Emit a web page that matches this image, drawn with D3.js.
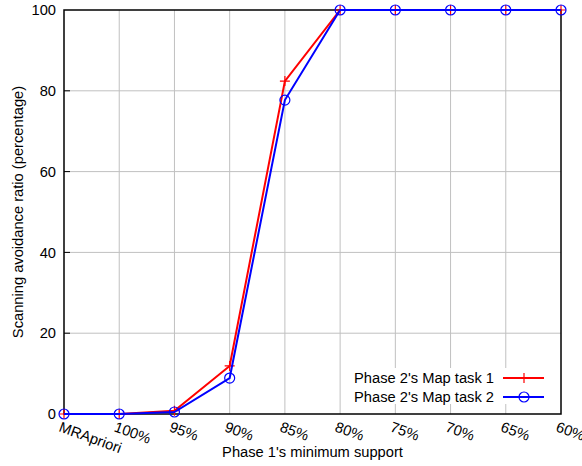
<!DOCTYPE html>
<html>
<head>
<meta charset="utf-8">
<script src="https://cdn.jsdelivr.net/npm/d3@7"></script>
<style>
  body { margin: 0; background: #fff; }
  text { font-family: "Liberation Sans", Arial, sans-serif; }
</style>
</head>
<body>
<div id="chart"></div>
<script>
// data
const categories = ["MRApriori", "100%", "95%", "90%", "85%", "80%", "75%", "70%", "65%", "60%"];
const task1 = [0, 0, 0.8, 11.9, 82.4, 100, 100, 100, 100, 100];
const task2 = [0, 0, 0.5, 8.9, 77.7, 100, 100, 100, 100, 100];
const yTicks = [0, 20, 40, 60, 80, 100];
const seriesNames = ["Phase 2's Map task 1", "Phase 2's Map task 2"];

const W = 582, H = 466;
const margin = { top: 10, right: 21, bottom: 52, left: 64 };
const width = W - margin.left - margin.right;
const height = H - margin.top - margin.bottom;
const fs = "14.7px";

const svg = d3.select("#chart").append("svg")
  .attr("width", W).attr("height", H)
  .append("g")
  .attr("transform", `translate(${margin.left},${margin.top})`);

const x = d3.scalePoint().domain(categories).range([0, width]);
const y = d3.scaleLinear().domain([0, 100]).range([height, 0]);

// grid
svg.append("g").selectAll("line.vg")
  .data(categories.slice(1, -1))
  .enter().append("line")
  .attr("x1", d => x(d)).attr("x2", d => x(d))
  .attr("y1", 0).attr("y2", height)
  .attr("stroke", "#c0c0c0").attr("stroke-width", 1);
svg.append("g").selectAll("line.hg")
  .data(yTicks.slice(1, -1))
  .enter().append("line")
  .attr("x1", 0).attr("x2", width)
  .attr("y1", d => y(d)).attr("y2", d => y(d))
  .attr("stroke", "#c0c0c0").attr("stroke-width", 1);

// legend background hides grid
const legX = 350, legY = 368;
svg.append("rect")
  .attr("x", legX - margin.left).attr("y", legY - margin.top)
  .attr("width", 208).attr("height", 36)
  .attr("fill", "#fff");

// y tick labels
svg.append("g").selectAll("text")
  .data(yTicks)
  .enter().append("text")
  .attr("x", -8).attr("y", d => y(d))
  .attr("dy", "0.35em")
  .attr("text-anchor", "end")
  .style("font-size", fs)
  .text(d => d);

// small inward ticks on frame
svg.append("g").selectAll("line")
  .data(yTicks.slice(1, -1))
  .enter().append("line")
  .attr("x1", 0).attr("x2", 6)
  .attr("y1", d => y(d)).attr("y2", d => y(d))
  .attr("stroke", "#000");

// x tick labels, rotated
svg.append("g").selectAll("text")
  .data(categories)
  .enter().append("text")
  .attr("transform", d => `translate(${x(d) - 6},${height + 17}) rotate(20)`)
  .attr("text-anchor", "start")
  .style("font-size", fs)
  .text(d => d);

// frame
svg.append("rect")
  .attr("x", 0).attr("y", 0).attr("width", width).attr("height", height)
  .attr("fill", "none").attr("stroke", "#000").attr("stroke-width", 1.5);

// axis titles
svg.append("text")
  .attr("x", width / 2).attr("y", height + 43)
  .attr("text-anchor", "middle")
  .style("font-size", fs)
  .text("Phase 1's minimum support");
svg.append("text")
  .attr("transform", `translate(${-41},${height / 2}) rotate(-90)`)
  .attr("text-anchor", "middle")
  .style("font-size", fs)
  .text("Scanning avoidance ratio (percentage)");

const line = d3.line().x((d, i) => x(categories[i])).y(d => y(d));

function plus(g, cx, cy, color) {
  g.append("path")
    .attr("d", `M${cx - 5},${cy}H${cx + 5}M${cx},${cy - 5}V${cy + 5}`)
    .attr("stroke", color).attr("stroke-width", 1.2).attr("fill", "none");
}
function circ(g, cx, cy, color) {
  g.append("circle").attr("cx", cx).attr("cy", cy).attr("r", 5)
    .attr("stroke", color).attr("stroke-width", 1.2).attr("fill", "none");
}

const series = [
  { values: task1, color: "#ff0000", mark: plus },
  { values: task2, color: "#0000ff", mark: circ }
];

series.forEach(s => {
  svg.append("path")
    .datum(s.values)
    .attr("d", line)
    .attr("fill", "none")
    .attr("stroke", s.color)
    .attr("stroke-width", 2);
  const g = svg.append("g");
  s.values.forEach((v, i) => s.mark(g, x(categories[i]), y(v), s.color));
});

// legend
series.forEach((s, i) => {
  const ly = 378 - margin.top + i * 19;
  svg.append("text")
    .attr("x", 494 - margin.left).attr("y", ly)
    .attr("dy", "0.35em")
    .attr("text-anchor", "end")
    .style("font-size", fs)
    .text(seriesNames[i]);
  svg.append("line")
    .attr("x1", 503 - margin.left).attr("x2", 544 - margin.left)
    .attr("y1", ly).attr("y2", ly)
    .attr("stroke", s.color).attr("stroke-width", 2);
  s.mark(svg, 524 - margin.left, ly, s.color);
});
</script>
</body>
</html>
